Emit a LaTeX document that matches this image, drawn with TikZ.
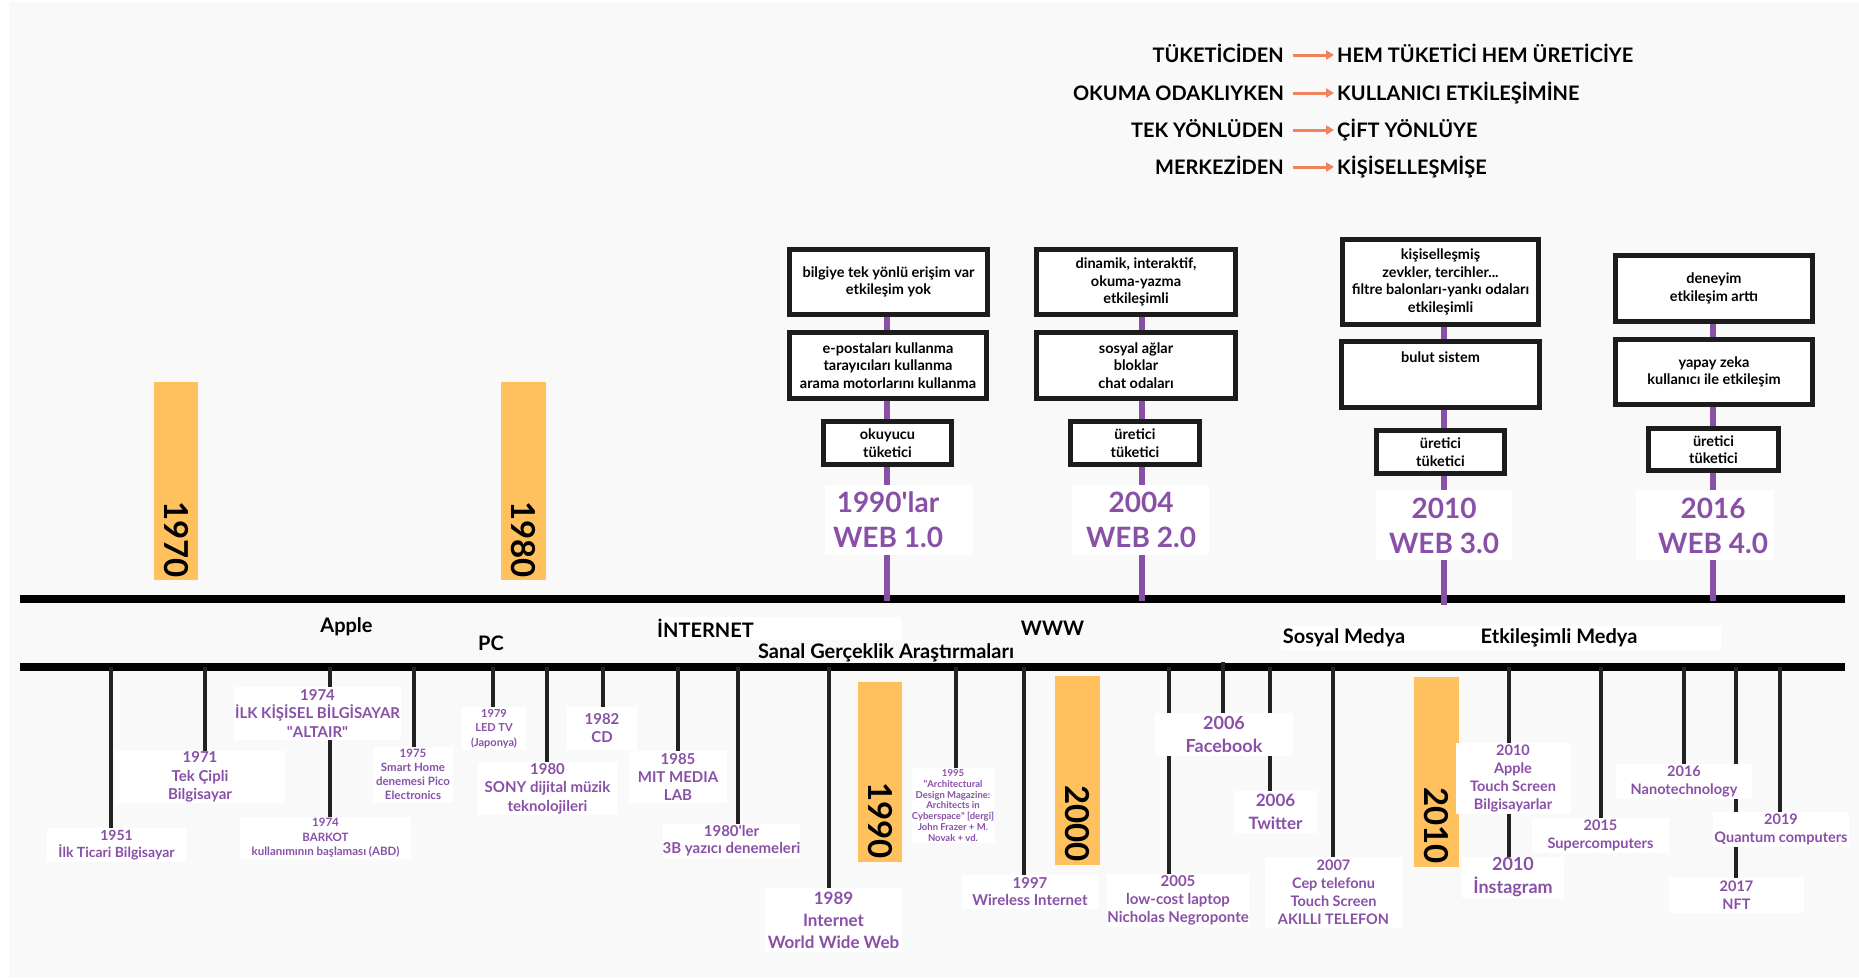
\documentclass[tikz,border=0pt]{standalone}
\usepackage{fontspec}
\setmainfont{Lato}
\usetikzlibrary{arrows.meta,calc}
\pgfdeclarelayer{bg}
\pgfdeclarelayer{mid}
\pgfsetlayers{bg,mid,main}
\definecolor{purp}{RGB}{137,80,168}
\definecolor{yel}{RGB}{255,192,94}
\definecolor{org}{RGB}{240,130,92}
\definecolor{bgc}{RGB}{249,249,249}
\definecolor{boxk}{RGB}{28,28,28}
\definecolor{tickc}{RGB}{34,34,34}
\newcommand\myfs[2]{\fontsize{#1}{#2}\selectfont\bfseries}
\begin{document}
\begin{tikzpicture}[x=1pt,y=-1pt,
  wbox/.style={draw=boxk, line width=5pt, fill=white, align=center, inner sep=0pt, text=black, font=\myfs{14.5}{17.5}},
  lbl/.style={fill=white, text=purp, align=center, inner sep=0pt},
  cat/.style={text=black, inner sep=0pt, font=\myfs{20}{24}},
  web/.style={text=purp, align=center, inner sep=0pt, font=\myfs{28}{35}},
  tick/.style={draw=tickc, line width=3.5pt},
  pline/.style={draw=purp, line width=6pt},
  mainline/.style={draw=black, line width=8pt},
  ybar/.style={fill=yel, draw=none, inner sep=0pt},
  ytxt/.style={text=black, inner sep=0pt, rotate=-90, anchor=east, font=\myfs{33}{33}},
  row/.style={text=black, inner sep=0pt, text height=14.5pt, text depth=0pt, font=\myfs{20}{24}},
  arr/.style={draw=org, line width=3pt, -{Triangle[length=8pt,width=9pt]}},
]
\useasboundingbox (0,0) rectangle (1859,977);
\begin{pgfonlayer}{bg}
\fill[white] (0,0) rectangle (1859,977);
\fill[bgc] (9,2) rectangle (1859,977);
\end{pgfonlayer}

% ---------- top rows ----------
\node[row, anchor=east] (l1) at (1284,55) {TÜKETİCİDEN};
\node[row, anchor=west] (r1) at (1337,55) {HEM TÜKETİCİ HEM ÜRETİCİYE};
\node[row, anchor=east] (l2) at (1284,93) {OKUMA ODAKLIYKEN};
\node[row, anchor=west] (r2) at (1337,93) {KULLANICI ETKİLEŞİMİNE};
\node[row, anchor=east] (l3) at (1284,130) {TEK YÖNLÜDEN};
\node[row, anchor=west] (r3) at (1337,130) {ÇİFT YÖNLÜYE};
\node[row, anchor=east] (l4) at (1284,167) {MERKEZİDEN};
\node[row, anchor=west] (r4) at (1337,167) {KİŞİSELLEŞMİŞE};
\foreach \i in {1,2,3,4}{\draw[arr] ([xshift=9pt]l\i.east) -- ([xshift=-3pt]r\i.west);}

% ---------- yellow bars ----------
\node[ybar, minimum width=44, minimum height=198] (y1970) at (176,481) {};
\node[ytxt] (t1970) at ([yshift=2pt]y1970.south) {1970};
\node[ybar, minimum width=45, minimum height=198] (y1980) at (523.5,481) {};
\node[ytxt] (t1980) at ([yshift=2pt]y1980.south) {1980};
\node[ybar, minimum width=44, minimum height=180] (y1990) at (880,772) {};
\node[ytxt] (t1990) at ([yshift=3pt]y1990.south) {1990};
\node[ybar, minimum width=45, minimum height=189] (y2000) at (1077.5,770.5) {};
\node[ytxt] (t2000) at ([yshift=3pt]y2000.south) {2000};
\node[ybar, minimum width=45, minimum height=190] (y2010) at (1436.5,772) {};
\node[ytxt] (t2010) at ([yshift=3pt]y2010.south) {2010};

% ---------- WEB columns ----------
\node[wbox, minimum width=198, minimum height=65] (a1) at (888.5,282) {bilgiye tek yönlü erişim var\\etkileşim yok};
\node[wbox, minimum width=197, minimum height=66] (a2) at (888,365.5) {e-postaları kullanma\\tarayıcıları kullanma\\arama motorlarını kullanma};
\node[wbox, minimum width=128, minimum height=43] (a3) at (887.5,443) {okuyucu\\tüketici};
\fill[white] (825,485) rectangle (973,555);
\node[web] (a4) at (888,519.5) {1990\textquotesingle lar\\WEB 1.0};

\node[wbox, minimum width=199, minimum height=65] (b1) at (1136,282) {dinamik, interaktif,\\okuma-yazma\\etkileşimli};
\node[wbox, minimum width=199, minimum height=66] (b2) at (1136,365.5) {sosyal ağlar\\bloklar\\chat odaları};
\node[wbox, minimum width=129, minimum height=43] (b3) at (1135,443) {üretici\\tüketici};
\fill[white] (1072,485) rectangle (1209,555);
\node[web] (b4) at (1141,519.5) {2004\\WEB 2.0};

\node[wbox, minimum width=196, minimum height=85] (c1) at (1440.5,282) {kişiselleşmiş\\zevkler, tercihler...\\filtre balonları-yankı odaları\\etkileşimli};
\node[wbox, minimum width=198, minimum height=66] (c2) at (1440.5,374.5) {bulut sistem\\~\\~};
\node[wbox, minimum width=128, minimum height=43] (c3) at (1440.5,452) {üretici\\tüketici};
\fill[white] (1376,490) rectangle (1512,560);
\node[web] (c4) at (1444,525.5) {2010\\WEB 3.0};

\node[wbox, minimum width=197, minimum height=66] (d1) at (1714,288.5) {deneyim\\etkileşim arttı};
\node[wbox, minimum width=197, minimum height=65] (d2) at (1714,372) {yapay zeka\\kullanıcı ile etkileşim};
\node[wbox, minimum width=130, minimum height=42] (d3) at (1713.5,449.5) {üretici\\tüketici};
\fill[white] (1636,490) rectangle (1774,560);
\node[web] (d4) at (1713,525.5) {2016\\WEB 4.0};

% ---------- category labels ----------
\fill[white] (658,617) rectangle (902,640);
\fill[white] (1281,626) rectangle (1721,650);
\node[cat] (kApple) at (346.5,627) {Apple};
\node[cat] (kPC) at (491,643) {PC};
\node[cat] (kNet) at (705.5,628) {İNTERNET};
\node[cat] (kVR) at (886,653) {Sanal Gerçeklik Araştırmaları};
\node[cat] (kWWW) at (1052.5,628) {WWW};
\node[cat] (kSos) at (1344,638) {Sosyal Medya};
\node[cat] (kEtk) at (1559,638) {Etkileşimli Medya};

% ---------- lower labels ----------
\node[lbl, minimum width=139, minimum height=34, font=\myfs{14}{17}] (n1951) at (116.5,845) {1951\\İlk Ticari Bilgisayar};
\node[lbl, minimum width=170, minimum height=52, font=\myfs{15}{18.5}] (n1971) at (200,777) {1971\\Tek Çipli\\Bilgisayar};
\node[lbl, minimum width=171, minimum height=42, font=\myfs{11.5}{14.5}] (n1974b) at (325.5,838) {1974\\BARKOT\\kullanımının başlaması (ABD)};
\node[lbl, minimum width=167, minimum height=53, font=\myfs{15}{18.5}] (n1974) at (317.5,713.5) {1974\\İLK KİŞİSEL BİLGİSAYAR\\\textquotedbl ALTAIR\textquotedbl};
\node[lbl, minimum width=80, minimum height=55, font=\myfs{11.5}{14}] (n1975) at (413,774.5) {1975\\Smart Home\\denemesi Pico\\Electronics};
\node[lbl, minimum width=64, minimum height=43, font=\myfs{11}{14.5}] (n1979) at (494,728.5) {1979\\LED TV\\(Japonya)};
\node[lbl, minimum width=139, minimum height=53, font=\myfs{15}{18.5}] (n1980) at (547.5,788.5) {1980\\SONY dijital müzik\\teknolojileri};
\node[lbl, minimum width=70, minimum height=43, font=\myfs{15}{18}] (n1982) at (602,728.5) {1982\\CD};
\node[lbl, minimum width=98, minimum height=52, font=\myfs{15}{18}] (n1985) at (678,777) {1985\\MIT MEDIA\\LAB};
\node[lbl, minimum width=137, minimum height=34, font=\myfs{15}{17}] (n1980s) at (731.5,841) {1980\textquotesingle ler\\3B yazıcı denemeleri};
\node[lbl, minimum width=137, minimum height=64, font=\myfs{17}{22}] (n1989) at (833.5,920) {1989\\Internet\\World Wide Web};
\node[lbl, minimum width=82, minimum height=75, font=\myfs{9.5}{10.8}] (n1995) at (953,805.5) {1995\\\textquotedbl Architectural\\Design Magazine:\\Architects in\\Cyberspace\textquotedbl{} [dergi]\\John Frazer + M.\\Novak + vd.};
\node[lbl, minimum width=136, minimum height=34, font=\myfs{15}{17}] (n1997) at (1030,892) {1997\\Wireless Internet};
\node[lbl, minimum width=136, minimum height=53, font=\myfs{15}{18}] (n2005) at (1178,900.5) {2005\\low-cost laptop\\Nicholas Negroponte};
\node[lbl, minimum width=83, minimum height=42, font=\myfs{17}{23}] (ntw) at (1275.5,812) {2006\\Twitter};
\node[lbl, minimum width=138, minimum height=43, font=\myfs{18}{23}] (nfb) at (1224,734.5) {2006\\Facebook};
\node[lbl, minimum width=137, minimum height=71, font=\myfs{14.5}{18}] (n2007) at (1333.5,892.5) {2007\\Cep telefonu\\Touch Screen\\AKILLI TELEFON};
\node[lbl, minimum width=102, minimum height=41, font=\myfs{18}{23}] (ninsta) at (1513,877.5) {2010\\İnstagram};
\node[lbl, minimum width=115, minimum height=71, font=\myfs{14.5}{18}] (napple) at (1513,778.5) {2010\\Apple\\Touch Screen\\Bilgisayarlar};
\node[lbl, minimum width=137, minimum height=35, font=\myfs{14.5}{18}] (n2015) at (1600.5,835.5) {2015\\Supercomputers};
\node[lbl, minimum width=136, minimum height=35, font=\myfs{14.5}{18}] (n2016) at (1684,781.5) {2016\\Nanotechnology};
\node[lbl, minimum width=135, minimum height=35, font=\myfs{14.5}{18}] (n2017) at (1736.5,895.5) {2017\\NFT};
\node[lbl, minimum width=136, minimum height=35, font=\myfs{14.5}{18}] (n2019) at (1781,829.5) {2019\\Quantum computers};

% ---------- lines, ticks (behind nodes) ----------
\coordinate (U0) at (20,599);  \coordinate (U1) at (1845,599);
\coordinate (D0) at (20,667);  \coordinate (D1) at (1845,667);
\coordinate (pa) at (887,601); \coordinate (pb) at (1142,601);
\coordinate (pc) at (1444,605); \coordinate (pd) at (1713,601);
\begin{pgfonlayer}{mid}
\draw[mainline] (U0) -- (U1);
\draw[mainline] (D0) -- (D1);
\foreach \c/\n in {pa/a1,pb/b1,pc/c1,pd/d1}{\draw[pline] (\c |- \n.center) -- (\c);}
\foreach \x/\n in {111/n1951,205/n1971,330/n1974b,414/n1975,493/n1979,547/n1980,603/n1982,678/n1985,738/n1980s,829/n1989,956/n1995,1024/n1997,1169/n2005,1270/ntw,1333/n2007,1509/ninsta,1601/n2015,1684/n2016,1736/n2017,1780/n2019}{
  \coordinate (t\n) at (\x,667);
  \draw[tick] (t\n) -- (t\n |- \n.north);
}
\coordinate (tfb) at (1223,662);
\draw[tick] (tfb) -- (tfb |- nfb.north);
\end{pgfonlayer}
\end{tikzpicture}
\end{document}
